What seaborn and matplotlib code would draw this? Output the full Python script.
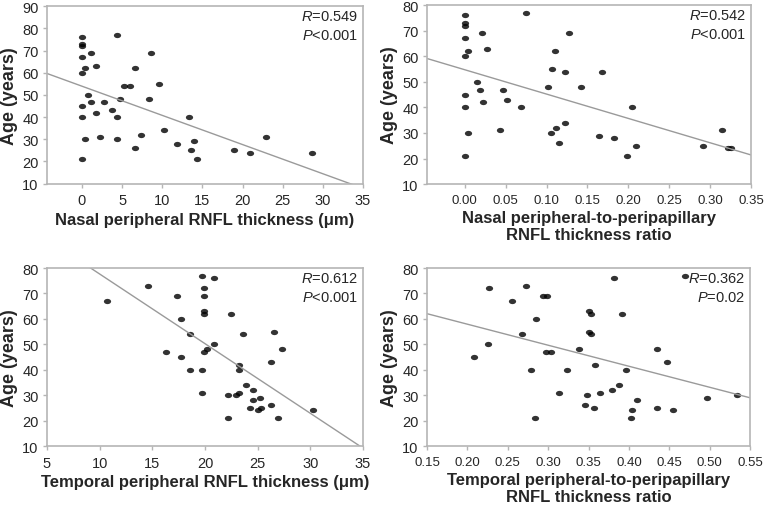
import seaborn as sns
import matplotlib.pyplot as plt
from matplotlib.markers import MarkerStyle
from matplotlib.transforms import Affine2D

# nasal peripheral RNFL thickness (um) vs age
nasal_um = [0, 0, 0, 0, 0, 0.4, 1.1, 1.7, 4.4, 6.6, 8.6, 5.3, 6.0, 9.6, 0.7, 0,
            1.1, 2.7, 4.7, 8.4, 1.7, 3.7, 0, 4.4, 13.3, 10.2, 0.4, 2.3, 4.4, 7.3,
            11.9, 13.9, 6.6, 13.6, 14.3, 0, 18.9, 20.9, 22.9, 28.7]
nasal_um_age = [76, 73, 72, 67, 60, 62, 69, 63, 77, 62, 69, 54, 54, 55, 50, 45,
                47, 47, 48, 48, 42, 43, 40, 40, 40, 34, 30, 31, 30, 32,
                28, 29, 26, 25, 21, 21, 25, 24, 31, 24]

# nasal peripheral-to-peripapillary ratio vs age
nasal_ratio = [0, 0, 0, 0, 0, 0.004, 0.021, 0.027, 0.075, 0, 0, 0.004, 0, 0.015,
               0.019, 0.022, 0.047, 0.052, 0.043, 0.069, 0.102, 0.107, 0.110,
               0.127, 0.123, 0.106, 0.112, 0.123, 0.115, 0.142, 0.168, 0.204,
               0.164, 0.183, 0.198, 0.209, 0.291, 0.314, 0.322, 0.326]
nasal_ratio_age = [76, 73, 72, 67, 60, 62, 69, 63, 77, 45, 40, 30, 21, 50,
                   47, 42, 47, 43, 31, 40, 48, 55, 62,
                   69, 54, 30, 32, 34, 26, 48, 54, 40,
                   29, 28, 21, 25, 25, 31, 24, 24]

# temporal peripheral RNFL thickness (um) vs age
temp_um = [10.7, 14.6, 17.3, 17.7, 18.6, 19.7, 16.3, 17.7, 18.6, 19.7, 19.7,
           20.9, 19.9, 19.9, 19.9, 19.9, 22.5, 23.6, 26.6, 27.3, 26.3, 20.9,
           19.9, 20.2, 23.2, 23.2, 22.2, 22.9, 23.2, 23.9, 24.6, 25.2, 24.6,
           24.3, 25.0, 25.3, 26.3, 22.2, 26.9, 30.3]
temp_um_age = [67, 73, 69, 60, 54, 77, 47, 45, 40, 40, 31,
               76, 72, 69, 63, 62, 62, 54, 55, 48, 43, 50,
               47, 48, 42, 40, 30, 30, 31, 34, 32, 29, 28,
               25, 24, 25, 26, 21, 21, 24]

# temporal peripheral-to-peripapillary ratio vs age
temp_ratio = [0.208, 0.227, 0.226, 0.255, 0.272, 0.267, 0.285, 0.279, 0.283,
              0.294, 0.299, 0.297, 0.304, 0.323, 0.313, 0.338, 0.381, 0.469,
              0.350, 0.353, 0.391, 0.350, 0.353, 0.358, 0.396, 0.435, 0.447,
              0.387, 0.379, 0.364, 0.348, 0.345, 0.356, 0.410, 0.404, 0.403,
              0.435, 0.455, 0.497, 0.533]
temp_ratio_age = [45, 72, 50, 67, 73, 54, 60, 40, 21,
                  69, 69, 47, 47, 40, 31, 48, 76, 77,
                  63, 62, 62, 55, 54, 42, 40, 48, 43,
                  34, 32, 31, 30, 26, 25, 28, 24, 21,
                  25, 24, 29, 30]

stats = ['$R$=0.549\n$P$<0.001', '$R$=0.542\n$P$<0.001',
         '$R$=0.612\n$P$<0.001', '$R$=0.362\n$P$=0.02']
xlabels = ['Nasal peripheral RNFL thickness (\u03bcm)',
           'Nasal peripheral-to-peripapillary\nRNFL thickness ratio',
           'Temporal peripheral RNFL thickness (\u03bcm)',
           'Temporal peripheral-to-peripapillary\nRNFL thickness ratio']

sns.set_style('white')
plt.rcParams['font.family'] = ['Liberation Sans', 'DejaVu Sans']
plt.rcParams['mathtext.fontset'] = 'custom'
plt.rcParams['mathtext.it'] = 'Liberation Sans:italic'
plt.rcParams['mathtext.rm'] = 'Liberation Sans'

# slightly flattened dots like the original
dot = MarkerStyle('o', transform=Affine2D().scale(1.3, 0.95))

fig = plt.figure(figsize=(7.64, 5.10), dpi=100)
boxes = [[0.0615, 0.638, 0.4136, 0.348], [0.559, 0.637, 0.424, 0.351],
         [0.0615, 0.1235, 0.4136, 0.349], [0.559, 0.1235, 0.423, 0.349]]
panels = [(nasal_um, nasal_um_age, (-4.35, 35), (10, 90), range(0, 36, 5), None),
          (nasal_ratio, nasal_ratio_age, (-0.046, 0.35), (10, 80),
           [0, 0.05, 0.1, 0.15, 0.2, 0.25, 0.3, 0.35], '{:.2f}'),
          (temp_um, temp_um_age, (5, 35), (10, 80), range(5, 36, 5), None),
          (temp_ratio, temp_ratio_age, (0.15, 0.55), (10, 80),
           [0.15, 0.2, 0.25, 0.3, 0.35, 0.4, 0.45, 0.5, 0.55], '{:.2f}')]

for i, (x, y, xl, yl, xt, fmt) in enumerate(panels):
    ax = fig.add_axes(boxes[i])
    ax.set_xlim(xl)
    ax.set_ylim(yl)
    sns.regplot(x=x, y=y, ax=ax, ci=None, truncate=False, marker=dot,
                scatter_kws={'s': 16, 'color': 'black', 'linewidths': 0},
                line_kws={'color': '#9a9a9a', 'lw': 1})
    ax.set_xlim(xl)
    ax.set_ylim(yl)
    ax.set_xticks(list(xt))
    if fmt:
        ax.set_xticklabels([fmt.format(v) for v in xt])
    ax.set_yticks(range(yl[0], yl[1] + 1, 10))
    for s in ax.spines.values():
        s.set_color('#b5b5b5')
        s.set_linewidth(1.2)
    ax.tick_params(direction='out', length=3, width=1, color='#b5b5b5',
                   left=True, bottom=True)
    ax.tick_params(axis='y', labelsize=10.5, pad=3)
    ax.tick_params(axis='x', labelsize=9.5 if fmt else 10.5, pad=4)
    ax.set_xlabel(xlabels[i], fontsize=12, fontweight='bold', labelpad=3,
                  linespacing=1.15)
    ax.set_ylabel('Age (years)', fontsize=13, fontweight='bold', labelpad=3)
    ax.text(0.985, 0.985, stats[i], transform=ax.transAxes, ha='right', va='top',
            fontsize=10.5, linespacing=1.5)

fig.savefig('out.png', dpi=100)
